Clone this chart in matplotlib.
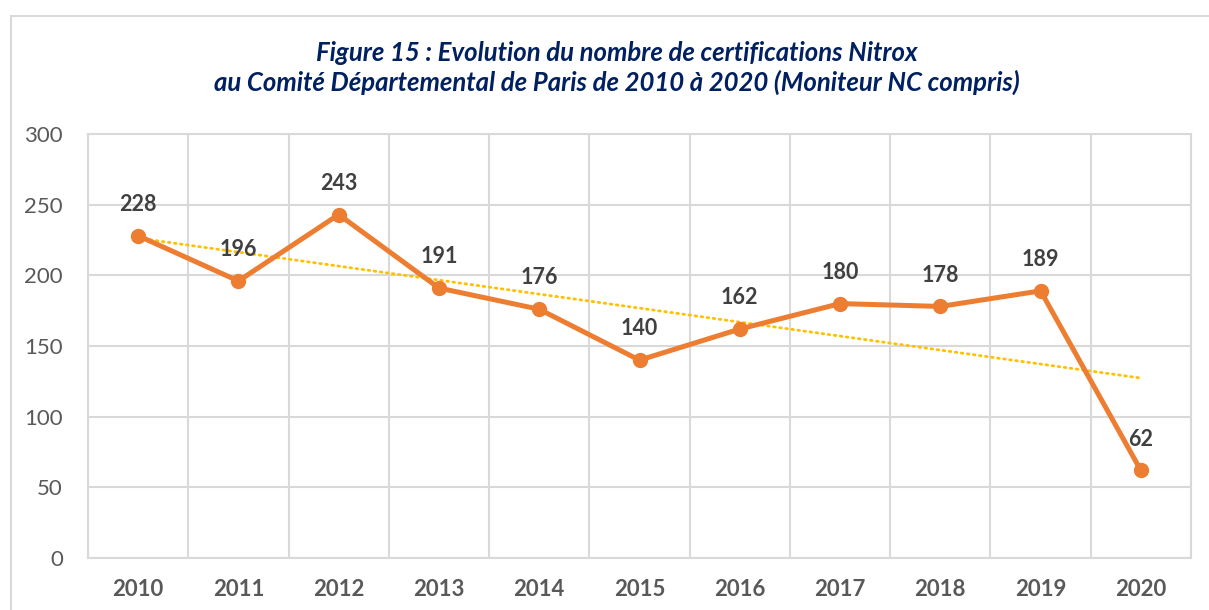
import numpy as np
import matplotlib.pyplot as plt
from matplotlib.patches import Rectangle

# données
annees = ['2010', '2011', '2012', '2013', '2014', '2015', '2016', '2017', '2018', '2019', '2020']
certifs = [228, 196, 243, 191, 176, 140, 162, 180, 178, 189, 62]

plt.rcParams['font.family'] = ['Lato', 'DejaVu Sans']

fig = plt.figure(figsize=(12.09, 6.10), dpi=100)
W, H = 1209, 610
# axes en pixels : gauche 88, droite 1191, haut 134, bas 558
ax = fig.add_axes([88 / W, 1 - 558 / H, (1191 - 88) / W, (558 - 134) / H])

# cadre du graphique
fig.patches.append(Rectangle((11 / W, -0.1), 1.2, 1 - 16 / H + 0.1, transform=fig.transFigure,
                             fill=False, edgecolor='#D9D9D9', linewidth=1.5))

x = np.arange(len(annees))
ax.plot(x, certifs, color='#ED7D31', linewidth=3.6, marker='o', markersize=10, zorder=4)

# courbe de tendance linéaire
coef = np.polyfit(x, certifs, 1)
ax.plot(x, np.polyval(coef, x), color='#FFC000', linewidth=2, linestyle=(0, (0.6, 1.6)),
        dash_capstyle='round', zorder=3)

for xi, yi in zip(x, certifs):
    ax.annotate(str(yi), (xi, yi), xytext=(0, 15), textcoords='offset points',
                ha='center', va='bottom', fontsize=15.5, fontweight='bold', color='#404040', zorder=5)

ax.set_xlim(-0.5, len(annees) - 0.5)
ax.set_ylim(0, 300)
ax.set_yticks(range(0, 301, 50))
ax.set_xticks(x)
ax.set_xticklabels(annees, fontsize=16, fontweight='bold', color='#595959')
ax.tick_params(axis='y', labelsize=16, labelcolor='#595959', length=0, pad=18)
ax.tick_params(axis='x', length=0, pad=15)
ax.set_xticks(np.arange(-0.5, len(annees), 1), minor=True)
ax.tick_params(axis='x', which='minor', length=0)
ax.grid(axis='y', color='#D9D9D9', linewidth=1.5)
ax.grid(axis='x', which='minor', color='#D9D9D9', linewidth=1.5)
ax.grid(axis='x', which='major', visible=False)
for s in ax.spines.values():
    s.set_color('#D9D9D9')
    s.set_linewidth(1.5)

fig.text(617 / W, 1 - 68 / H,
         'Figure 15 : Evolution du nombre de certifications Nitrox\n'
         'au Comité Départemental de Paris de 2010 à 2020 (Moniteur NC compris)',
         ha='center', va='center', fontsize=18.5, fontweight='bold', fontstyle='italic',
         color='#002060', linespacing=1.25)

fig.savefig('out.png', dpi=100)
